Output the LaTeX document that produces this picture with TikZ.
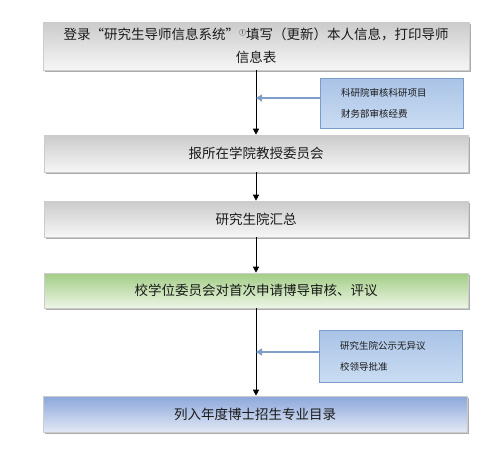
\documentclass[tikz,border=0pt]{standalone}
\usepackage{fontspec}
\setmainfont{Noto Sans CJK SC}
\usetikzlibrary{arrows.meta,shadows}
\definecolor{sideborder}{HTML}{7A9CC8}
\definecolor{sidetop}{HTML}{A9C3E6}
\definecolor{sidebot}{HTML}{CADCF2}
\definecolor{arrowblue}{HTML}{7F9FCA}
\definecolor{greytop}{HTML}{CBCBCB}
\definecolor{greybot}{HTML}{F6F6F6}
\definecolor{greentop}{HTML}{A2CD85}
\definecolor{greenbot}{HTML}{EDF5E6}
\definecolor{bluetop}{HTML}{8BA7DA}
\definecolor{bluebot}{HTML}{E2E8F5}
\definecolor{txt}{HTML}{1A1A1A}
\tikzset{
  mainbox/.style={rectangle, draw=gray!40, line width=0.6pt, text=txt,
    font=\fontsize{13.5}{23}\selectfont, align=center, inner sep=0pt,
    drop shadow={shadow xshift=2pt, shadow yshift=-2pt, fill=gray!65, opacity=1}},
  greybox/.style={mainbox, top color=greytop, bottom color=greybot},
  greenbox/.style={mainbox, top color=greentop, bottom color=greenbot},
  bluebox/.style={mainbox, top color=bluetop, bottom color=bluebot},
  sidebox/.style={rectangle, draw=sideborder, line width=0.8pt, top color=sidetop,
    bottom color=sidebot, text=txt, font=\fontsize{9.5}{21}\selectfont,
    align=left, inner sep=0pt, text width=125pt},
  flow/.style={draw=black, line width=0.7pt, -{Triangle[width=6pt,length=6pt]}},
  feed/.style={draw=arrowblue, line width=2pt, -{Triangle[width=7pt,length=6pt]}}
}
\begin{document}
\begin{tikzpicture}[x=1pt,y=-1pt]
\useasboundingbox (0,0) rectangle (503,469);
\node[greybox, minimum width=426pt, minimum height=48pt] (b1) at (256,46)
  {登录\makebox[1em][r]{“}研究生导师信息系统\makebox[1em][l]{”}\raisebox{4pt}{\fontsize{7}{7}\selectfont ①}填写（更新）本人信息，打印导师\\信息表};
\node[greybox, minimum width=424pt, minimum height=37pt] (b2) at (256,153.5) {报所在学院教授委员会};
\node[greybox, minimum width=424pt, minimum height=36pt] (b3) at (256,219) {研究生院汇总};
\node[greenbox, minimum width=424pt, minimum height=35pt] (b4) at (256,290.5) {校学位委员会对首次申请博导审核、评议};
\node[bluebox, minimum width=424pt, minimum height=36pt] (b5) at (255,414) {列入年度博士招生专业目录};
\node[sidebox, minimum width=143pt, minimum height=50pt] (s1) at (391.5,103)
  {\hspace*{12pt}科研院审核科研项目\\\hspace*{12pt}财务部审核经费};
\node[sidebox, minimum width=143pt, minimum height=52pt] (s2) at (390.5,356)
  {\hspace*{12pt}研究生院公示无异议\\\hspace*{12pt}校领导批准};
\draw[flow] (b1.south) -- (b2.north);
\draw[flow] (b2.south) -- (b3.north);
\draw[flow] (b3.south) -- (b4.north);
\draw[flow] (b4.south) -- (b4.south |- b5.north);
\draw[feed] ([yshift=5pt]s1.west) -- ([yshift=5pt]s1.west -| b1.south);
\draw[feed] ([yshift=4pt]s2.west) -- ([yshift=4pt]s2.west -| b4.south);
\end{tikzpicture}
\end{document}
